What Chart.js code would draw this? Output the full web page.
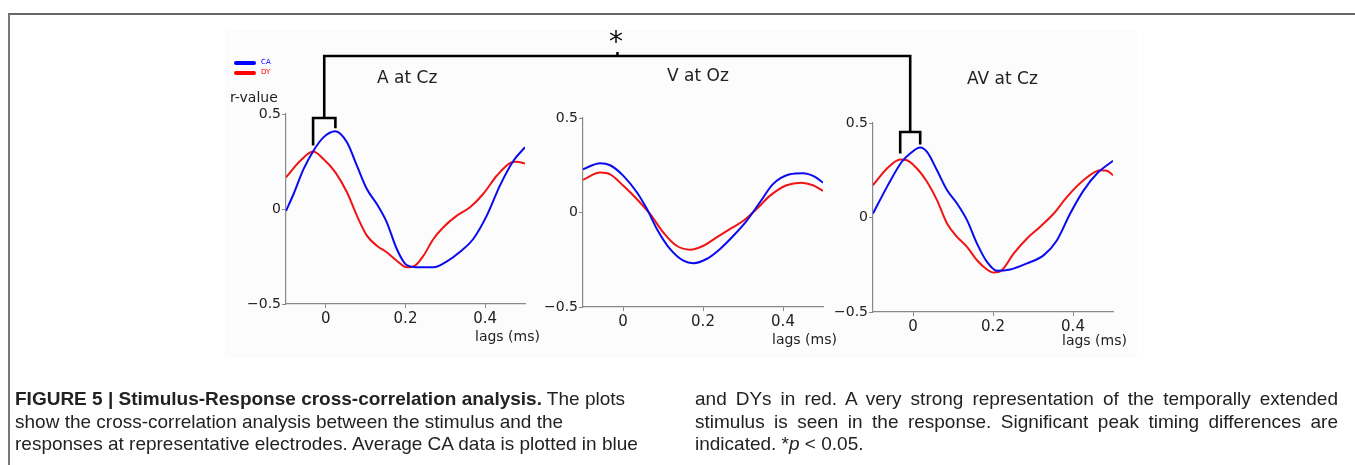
<!DOCTYPE html>
<html>
<head>
<meta charset="utf-8">
<script src="https://cdn.jsdelivr.net/npm/chart.js@4"></script>
<style>
  body { margin: 0; background: #fff; width: 1355px; height: 465px; overflow: hidden; position: relative; font-family: "DejaVu Sans", sans-serif; }
  .frame { position: absolute; left: 8px; top: 13px; width: 1345px; height: 470px; border-top: 2px solid #666; border-left: 2px solid #777; border-right: 1px solid #333; }
  .fig { position: absolute; left: 225px; top: 30px; width: 912px; height: 328px; background: #fcfcfc; }
  canvas.plot { position: absolute; }
  #overlay { position: absolute; left: 0; top: 0; }
  .lbl { position: absolute; white-space: nowrap; color: #222; }
  .cap { position: absolute; font-family: "Liberation Sans", Arial, sans-serif; font-size: 19px; color: #222; line-height: 22.5px; }
  .cap div { white-space: nowrap; }
  .cap.j div { text-align: justify; text-align-last: justify; white-space: normal; }
  .cap.j div.last { text-align-last: left; }
</style>
</head>
<body>
<div class="frame"></div>
<div class="fig"></div>

<canvas id="c1" class="plot"></canvas>
<canvas id="c2" class="plot"></canvas>
<canvas id="c3" class="plot"></canvas>
<canvas id="overlay" width="1355" height="465"></canvas>

<!-- legend -->
<div style="position:absolute;left:234px;top:61px;width:22px;height:4px;border-radius:2px;background:#0000ff"></div>
<div class="lbl" style="left:261px;top:58px;font-size:7px;color:#0000ff">CA</div>
<div style="position:absolute;left:234px;top:71px;width:22px;height:4px;border-radius:2px;background:#ff0000"></div>
<div class="lbl" style="left:261px;top:68px;font-size:7px;color:#ff0000">DY</div>
<div class="lbl" style="left:230px;top:89px;font-size:14px">r-value</div>

<div class="lbl" style="left:377px;top:67px;font-size:17px">A at Cz</div>
<div class="lbl" style="left:667px;top:65px;font-size:17px">V at Oz</div>
<div class="lbl" style="left:967px;top:68px;font-size:17px">AV at Cz</div>

<div class="lbl" style="left:475px;top:328px;font-size:14px">lags (ms)</div>
<div class="lbl" style="left:772px;top:331px;font-size:14px">lags (ms)</div>
<div class="lbl" style="left:1062px;top:332px;font-size:14px">lags (ms)</div>

<div class="lbl" style="left:609px;top:25px;font-size:28px;color:#111">*</div>

<div class="cap" style="left:15px;top:388px">
  <div><b>FIGURE 5 | Stimulus-Response cross-correlation analysis.</b> The plots</div>
  <div>show the cross-correlation analysis between the stimulus and the</div>
  <div>responses at representative electrodes. Average CA data is plotted in blue</div>
</div>
<div class="cap j" style="left:695px;top:388px;width:643px">
  <div>and DYs in red. A very strong representation of the temporally extended</div>
  <div>stimulus is seen in the response. Significant peak timing differences are</div>
  <div class="last">indicated. *<i>p</i> &lt; 0.05.</div>
</div>

<script>
// A at Cz
const aLagsCA = [-0.1, -0.081, -0.056, -0.031, -0.006, 0.024, 0.053, 0.078, 0.103, 0.128, 0.153, 0.178, 0.203, 0.237, 0.27, 0.303, 0.337, 0.37, 0.404, 0.437, 0.471, 0.5];
const aCA = [-0.01, 0.079, 0.21, 0.307, 0.377, 0.409, 0.351, 0.228, 0.105, 0.026, -0.07, -0.21, -0.295, -0.307, -0.307, -0.277, -0.225, -0.158, -0.035, 0.123, 0.254, 0.325];
const aLagsDY = [-0.1, -0.064, -0.032, -0.006, 0.024, 0.053, 0.078, 0.103, 0.128, 0.153, 0.178, 0.203, 0.224, 0.245, 0.27, 0.295, 0.329, 0.362, 0.395, 0.429, 0.462, 0.479, 0.5];
const aDY = [0.167, 0.254, 0.302, 0.263, 0.193, 0.088, -0.035, -0.14, -0.193, -0.228, -0.272, -0.307, -0.298, -0.246, -0.158, -0.096, -0.035, 0.009, 0.079, 0.175, 0.242, 0.249, 0.24];

// V at Oz
const vLagsCA = [-0.1, -0.057, -0.032, 0.001, 0.035, 0.06, 0.085, 0.118, 0.151, 0.176, 0.209, 0.242, 0.276, 0.309, 0.342, 0.375, 0.417, 0.45, 0.479, 0.5];
const vCA = [0.229, 0.261, 0.25, 0.194, 0.106, 0.018, -0.088, -0.194, -0.255, -0.268, -0.246, -0.194, -0.123, -0.044, 0.053, 0.15, 0.202, 0.208, 0.19, 0.158];
const vLagsDY = [-0.1, -0.057, -0.032, 0.001, 0.035, 0.068, 0.101, 0.134, 0.168, 0.201, 0.234, 0.267, 0.301, 0.334, 0.367, 0.409, 0.446, 0.475, 0.5];
const vDY = [0.173, 0.211, 0.202, 0.141, 0.07, -0.009, -0.106, -0.176, -0.197, -0.176, -0.132, -0.088, -0.044, 0.018, 0.088, 0.144, 0.158, 0.144, 0.114];

// AV at Cz
const avLagsCA = [-0.1, -0.065, -0.028, -0.007, 0.018, 0.035, 0.06, 0.085, 0.11, 0.135, 0.16, 0.185, 0.21, 0.243, 0.285, 0.327, 0.36, 0.393, 0.427, 0.46, 0.5];
const avCA = [0.021, 0.162, 0.295, 0.339, 0.37, 0.347, 0.25, 0.145, 0.074, -0.014, -0.138, -0.235, -0.282, -0.275, -0.243, -0.199, -0.12, 0.021, 0.145, 0.233, 0.3];
const avLagsDY = [-0.1, -0.065, -0.032, -0.015, 0.01, 0.035, 0.06, 0.085, 0.11, 0.135, 0.16, 0.185, 0.202, 0.222, 0.252, 0.285, 0.318, 0.352, 0.385, 0.427, 0.468, 0.485, 0.5];
const avDY = [0.171, 0.259, 0.307, 0.303, 0.259, 0.189, 0.092, -0.032, -0.102, -0.155, -0.226, -0.275, -0.291, -0.279, -0.19, -0.111, -0.049, 0.021, 0.109, 0.198, 0.25, 0.247, 0.224];

const xTicks = [0, 0.2, 0.4];
const yTicks = [-0.5, 0, 0.5];

const blue = '#0a0af0';
const red = '#f01414';

function pts(xs, ys) {
  return xs.map((x, i) => ({ x: x, y: ys[i] }));
}

// plot area placement on the page: left, top, width, height
function makePlot(id, box, lagsCA, ca, lagsDY, dy) {
  const padL = 60, padT = 14, padR = 15, padB = 32;
  const cv = document.getElementById(id);
  cv.style.left = (box[0] - padL) + 'px';
  cv.style.top = (box[1] - padT) + 'px';
  cv.width = box[2] + padL + padR;
  cv.height = box[3] + padT + padB;
  return new Chart(cv, {
    type: 'line',
    data: {
      datasets: [
        { label: 'CA', data: pts(lagsCA, ca), borderColor: blue, borderWidth: 2, pointRadius: 0, cubicInterpolationMode: 'monotone' },
        { label: 'DY', data: pts(lagsDY, dy), borderColor: red, borderWidth: 2, pointRadius: 0, cubicInterpolationMode: 'monotone' }
      ]
    },
    options: {
      responsive: false,
      animation: false,
      layout: { padding: { top: padT, right: padR, left: 0, bottom: 0 } },
      plugins: { legend: { display: false }, tooltip: { enabled: false } },
      scales: {
        x: {
          type: 'linear', min: -0.1, max: 0.5,
          afterBuildTicks: (s) => { s.ticks = xTicks.map(v => ({ value: v })); },
          afterFit: (s) => { s.height = padB; },
          grid: { drawOnChartArea: false, tickLength: 4, color: '#888' },
          border: { color: '#888', width: 1.2 },
          ticks: { color: '#222', font: { family: 'DejaVu Sans', size: 15 }, padding: 2, callback: (v) => String(v) }
        },
        y: {
          min: -0.5, max: 0.5,
          afterBuildTicks: (s) => { s.ticks = yTicks.map(v => ({ value: v })); },
          afterFit: (s) => { s.width = padL; },
          grid: { drawOnChartArea: false, tickLength: 4, color: '#888' },
          border: { color: '#888', width: 1.2 },
          ticks: { color: '#222', font: { family: 'DejaVu Sans', size: 14 }, padding: 1, callback: (v) => (v < 0 ? '\u2212' + Math.abs(v) : String(v)) }
        }
      }
    }
  });
}

const chartA = makePlot('c1', [286, 114, 239, 190], aLagsCA, aCA, aLagsDY, aDY);
const chartV = makePlot('c2', [583, 118, 240, 189], vLagsCA, vCA, vLagsDY, vDY);
const chartAV = makePlot('c3', [873, 123, 240, 189], avLagsCA, avCA, avLagsDY, avDY);

// peak of a series -> page position
function peak(chart, xs, ys) {
  let k = 0;
  ys.forEach((v, i) => { if (v > ys[k]) k = i; });
  const cv = chart.canvas;
  return {
    x: chart.scales.x.getPixelForValue(xs[k]) + parseFloat(cv.style.left),
    y: chart.scales.y.getPixelForValue(ys[k]) + parseFloat(cv.style.top)
  };
}

// significance brackets
const ctx = document.getElementById('overlay').getContext('2d');
ctx.strokeStyle = '#000';
ctx.lineWidth = 2.6;
ctx.lineCap = 'butt';
const topY = 56;
function smallBracket(chart, lagsCA, ca, lagsDY, dy, barY) {
  const pDY = peak(chart, lagsDY, dy);
  const pCA = peak(chart, lagsCA, ca);
  ctx.beginPath();
  ctx.moveTo(pDY.x, pDY.y - 6);
  ctx.lineTo(pDY.x, barY);
  ctx.lineTo(pCA.x, barY);
  ctx.lineTo(pCA.x, pCA.y - 3);
  ctx.stroke();
  return (pDY.x + pCA.x) / 2;
}
const midA = smallBracket(chartA, aLagsCA, aCA, aLagsDY, aDY, 118);
const midAV = smallBracket(chartAV, avLagsCA, avCA, avLagsDY, avDY, 132);
ctx.beginPath();
ctx.moveTo(midA, 118);
ctx.lineTo(midA, topY);
ctx.lineTo(midAV, topY);
ctx.lineTo(midAV, 132);
ctx.stroke();
ctx.fillStyle = '#000';
ctx.fillRect((midA + midAV) / 2 - 1, topY - 4, 2.5, 4);
</script>
</body>
</html>
